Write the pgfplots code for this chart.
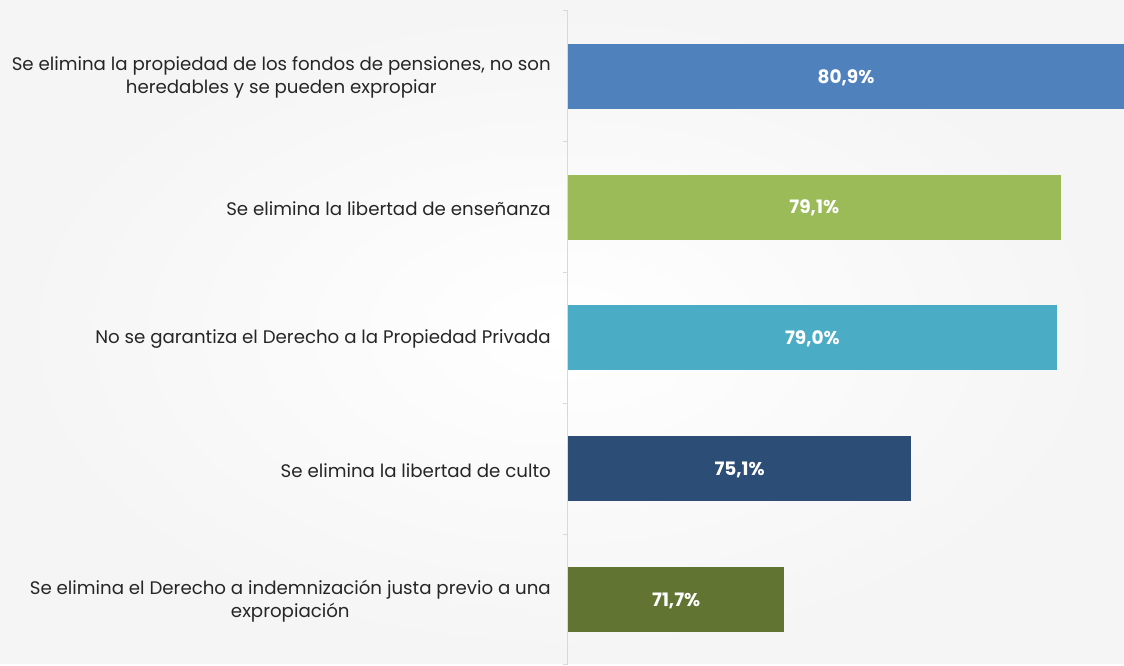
\documentclass[border=0pt]{standalone}
\usepackage{pgfplots}
\pgfplotsset{compat=1.18}
\usepackage{fontspec}
\setmainfont{Poppins}
\definecolor{c1}{HTML}{4F81BD}
\definecolor{c2}{HTML}{9BBB59}
\definecolor{c3}{HTML}{4BACC6}
\definecolor{c4}{HTML}{2C4D76}
\definecolor{c5}{HTML}{617431}
\definecolor{axgray}{HTML}{D9D9D9}
\definecolor{txt}{HTML}{262626}
\begin{document}
\begin{tikzpicture}
\shade[inner color=white, outer color=black!4] (-568pt,0pt) rectangle (556pt,664pt);
\begin{axis}[
  at={(0pt,-1pt)}, anchor=south west,
  scale only axis, width=556pt, height=654pt,
  xmin=65.9, xmax=80.8, ymin=-0.5, ymax=4.5,
  axis x line=none, axis y line*=left,
  y axis line style={axgray, line width=1pt},
  ytick={0,1,2,3,4},
  yticklabels={
    {Se elimina el Derecho a indemnización justa previo a una\\expropiación},
    {Se elimina la libertad de culto},
    {No se garantiza el Derecho a la Propiedad Privada},
    {Se elimina la libertad de enseñanza},
    {Se elimina la propiedad de los fondos de pensiones, no son\\heredables y se pueden expropiar}},
  major tick length=0pt,
  minor ytick={-0.5,0.5,1.5,2.5,3.5,4.5},
  minor tick length=5pt,
  tick align=outside,
  minor tick style={axgray, line width=1pt},
  yticklabel style={align=center, font=\fontsize{18.2}{23}\selectfont, text=txt, inner sep=0pt, xshift=-17pt, yshift=-1.5pt},
  xbar, bar width=65pt, bar shift=0pt,
  clip=true,
]
\addplot[fill=c1, draw=none] coordinates {(80.9,4)};
\addplot[fill=c2, draw=none] coordinates {(79.1,3)};
\addplot[fill=c3, draw=none] coordinates {(79.0,2)};
\addplot[fill=c4, draw=none] coordinates {(75.1,1)};
\addplot[fill=c5, draw=none] coordinates {(71.7,0)};
\addplot[only marks, mark=none, xbar=0pt, draw=none, fill=none,
  point meta=explicit,
  nodes near coords={\pgfmathprintnumber[fixed,fixed zerofill,precision=1,use comma,assume math mode=true]{\pgfplotspointmeta}\%},
  every node near coord/.append style={anchor=center, text=white, font=\fontsize{18.5}{20}\selectfont\bfseries, yshift=-1pt}]
  coordinates {(73.35,4) [80.9] (72.5,3) [79.1] (72.45,2) [79.0] (70.5,1) [75.1] (68.8,0) [71.7]};
\end{axis}
\end{tikzpicture}
\end{document}
